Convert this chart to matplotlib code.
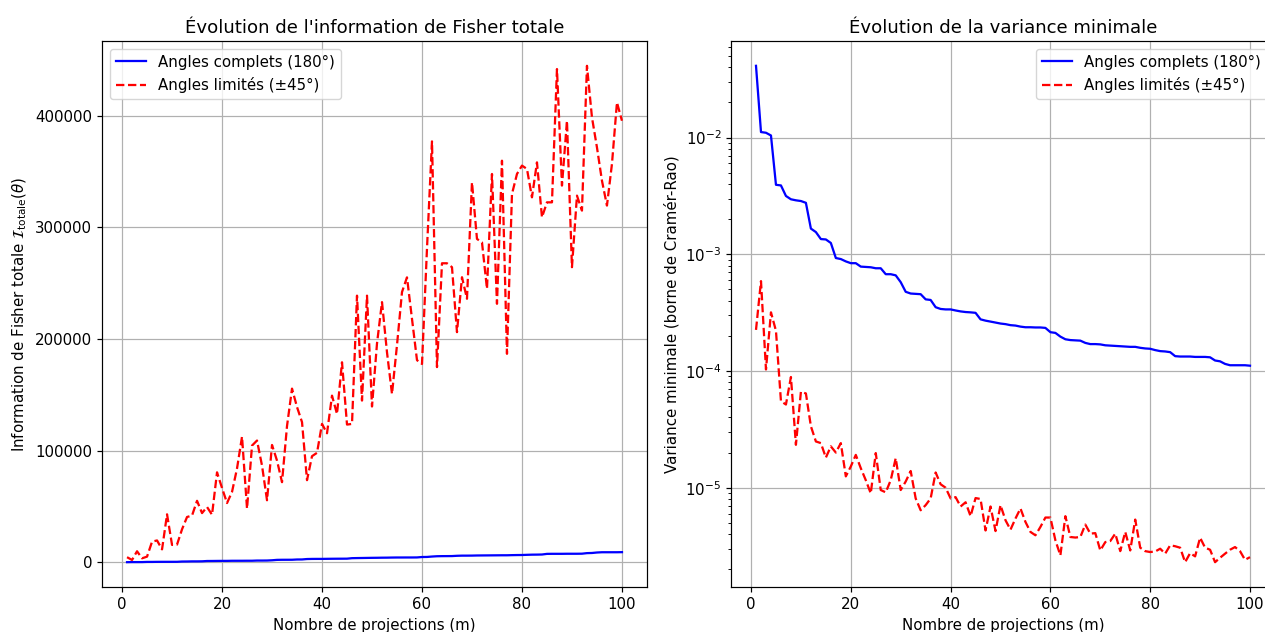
import numpy as np
import matplotlib
matplotlib.use("Agg")
import matplotlib.pyplot as plt

m = list(range(1, 101))

fisher_full = [24, 90, 91, 96, 254, 257, 316, 338, 345, 350,
               362, 602, 645, 741, 746, 800, 1076, 1099, 1151, 1192,
               1192, 1276, 1284, 1292, 1318, 1318, 1481, 1481, 1515, 1733,
               2096, 2169, 2183, 2198, 2433, 2463, 2841, 2941, 2967, 2967,
               3030, 3086, 3125, 3145, 3175, 3610, 3704, 3774, 3846, 3922,
               3968, 4049, 4082, 4167, 4219, 4219, 4237, 4237, 4274, 4651,
               4717, 5076, 5348, 5435, 5464, 5495, 5747, 5882, 5882, 5917,
               6024, 6061, 6098, 6135, 6173, 6211, 6211, 6329, 6410, 6452,
               6623, 6757, 6803, 6897, 7463, 7519, 7519, 7519, 7576, 7576,
               7576, 7634, 8130, 8264, 8696, 8929, 8929, 8929, 8929, 9009]

fisher_lim = [4500, 2000, 9800, 3500, 5000, 18400, 19500, 11500, 42900, 15500,
              15800, 29500, 40500, 41800, 55000, 44000, 49500, 42500, 80500, 66500,
              53000, 63000, 84000, 112500, 48000, 104500, 109000, 86500, 55500, 105000,
              91000, 71700, 122000, 155500, 139000, 125500, 73500, 95000, 98000, 123900,
              115500, 149200, 132800, 179100, 123300, 123900, 238800, 144800, 238800, 139500,
              196000, 233000, 188000, 150700, 194500, 242000, 255200, 218000, 181000, 177600,
              281000, 377000, 174800, 267800, 267800, 264300, 206100, 255300, 236000, 340300,
              289600, 286600, 244900, 347800, 231500, 359700, 186700, 329900, 347800, 355300,
              352300, 326900, 358200, 309000, 322400, 322400, 441800, 337400, 395500, 264300,
              328400, 315000, 444700, 398500, 371600, 341800, 319500, 356800, 411900, 395500]

var_full = [0.0412, 0.01115, 0.0110, 0.01042, 0.00394, 0.00389, 0.00316, 0.00296, 0.00290, 0.00286,
            0.00276, 0.00166, 0.00155, 0.00135, 0.00134, 0.00125, 0.000929, 0.000910, 0.000869, 0.000839,
            0.000839, 0.000784, 0.000779, 0.000774, 0.000759, 0.000759, 0.000675, 0.000675, 0.000660, 0.000577,
            0.000477, 0.000461, 0.000458, 0.000455, 0.000411, 0.000406, 0.000352, 0.000340, 0.000337, 0.000337,
            0.000330, 0.000324, 0.000320, 0.000318, 0.000315, 0.000277, 0.000270, 0.000265, 0.000260, 0.000255,
            0.000252, 0.000247, 0.000245, 0.000240, 0.000237, 0.000237, 0.000236, 0.000236, 0.000234, 0.000215,
            0.000212, 0.000197, 0.000187, 0.000184, 0.000183, 0.000182, 0.000174, 0.000170, 0.000170, 0.000169,
            0.000166, 0.000165, 0.000164, 0.000163, 0.000162, 0.000161, 0.000161, 0.000158, 0.000156, 0.000155,
            0.000151, 0.000148, 0.000147, 0.000145, 0.000134, 0.000133, 0.000133, 0.000133, 0.000132, 0.000132,
            0.000132, 0.000131, 0.000123, 0.000121, 0.000115, 0.000112, 0.000112, 0.000112, 0.000112, 0.000111]

var_lim = [2.25e-4, 5.89e-4, 1.03e-4, 3.18e-4, 2.21e-4, 5.51e-5, 5.16e-5, 8.88e-5, 2.33e-5, 6.64e-5,
           6.42e-5, 3.36e-5, 2.49e-5, 2.41e-5, 1.81e-5, 2.26e-5, 2.00e-5, 2.41e-5, 1.25e-5, 1.52e-5,
           1.91e-5, 1.47e-5, 1.16e-5, 8.94e-6, 1.98e-5, 9.55e-6, 9.12e-6, 1.16e-5, 1.79e-5, 9.55e-6,
           1.13e-5, 1.39e-5, 8.09e-6, 6.41e-6, 7.09e-6, 8.09e-6, 1.35e-5, 1.07e-5, 1.00e-5, 8.09e-6,
           8.3e-6, 6.9e-6, 7.5e-6, 5.7e-6, 8.15e-6, 8.0e-6, 4.3e-6, 6.9e-6, 4.25e-6, 7.09e-6,
           5.26e-6, 4.37e-6, 5.44e-6, 6.64e-6, 5.09e-6, 4.18e-6, 3.91e-6, 4.61e-6, 5.55e-6, 5.55e-6,
           3.54e-6, 2.63e-6, 5.70e-6, 3.78e-6, 3.74e-6, 3.78e-6, 4.83e-6, 4.04e-6, 4.08e-6, 2.90e-6,
           3.42e-6, 3.49e-6, 4.04e-6, 2.86e-6, 4.18e-6, 2.90e-6, 5.33e-6, 3.06e-6, 2.86e-6, 2.81e-6,
           2.84e-6, 3.00e-6, 2.72e-6, 3.21e-6, 3.15e-6, 3.06e-6, 2.30e-6, 2.75e-6, 2.58e-6, 3.73e-6,
           3.06e-6, 2.94e-6, 2.30e-6, 2.51e-6, 2.72e-6, 2.94e-6, 3.10e-6, 2.86e-6, 2.41e-6, 2.54e-6]

label_full = "Angles complets (180°)"
label_lim = "Angles limités (±45°)"

s = 1.085
plt.rcParams.update({
    "font.size": 10 * s,
    "lines.linewidth": 1.5 * s,
    "axes.linewidth": 0.8 * s,
    "grid.linewidth": 0.8 * s,
    "xtick.major.width": 0.8 * s,
    "ytick.major.width": 0.8 * s,
    "xtick.major.size": 3.5 * s,
    "ytick.major.size": 3.5 * s,
    "ytick.minor.size": 2 * s,
    "ytick.minor.width": 0.6 * s,
})

W, H = 1265, 632
fig = plt.figure(figsize=(W / 100, H / 100), dpi=100)

ax1 = fig.add_axes([102.3 / W, 1 - 587 / H, 544.4 / W, 546 / H])
ax2 = fig.add_axes([731.3 / W, 1 - 587 / H, 543.4 / W, 546 / H])

ax1.plot(m, fisher_full, color="blue", linestyle="-", label=label_full)
ax1.plot(m, fisher_lim, color="red", linestyle="--", label=label_lim)
ax1.set_title("Évolution de l'information de Fisher totale")
ax1.set_xlabel("Nombre de projections (m)")
ax1.set_ylabel(r"Information de Fisher totale $\mathcal{I}_{\mathrm{totale}}(\theta)$")
ax1.grid(True)
ax1.legend(loc="upper left")

ax2.plot(m, var_full, color="blue", linestyle="-", label=label_full)
ax2.plot(m, var_lim, color="red", linestyle="--", label=label_lim)
ax2.set_yscale("log")
ax2.set_title("Évolution de la variance minimale")
ax2.set_xlabel("Nombre de projections (m)")
ax2.set_ylabel("Variance minimale (borne de Cramér-Rao)")
ax2.grid(True)
ax2.legend(loc="upper right")

fig.savefig("out.png", dpi=100)
